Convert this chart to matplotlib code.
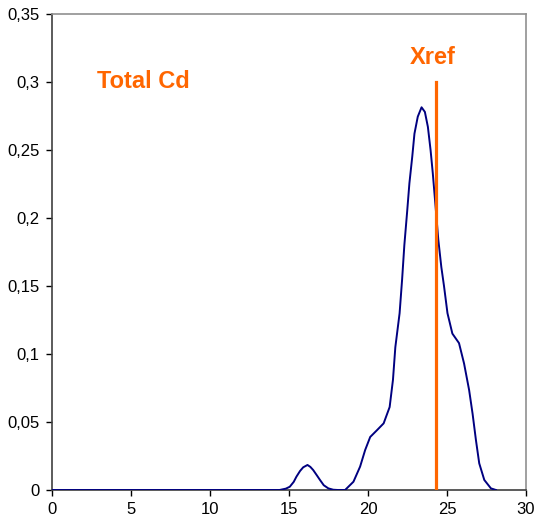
import matplotlib
matplotlib.use("Agg")
import matplotlib.pyplot as plt

# Distribution curve (x, density)
x_vals = [0, 5, 10, 14.0, 14.4, 14.8, 15.05, 15.3, 15.47, 15.7, 15.9, 16.17, 16.35, 16.53,
          16.75, 16.96, 17.2, 17.49, 17.8, 18.1, 18.55, 19.08, 19.5, 19.82, 20.14, 20.57,
          20.99, 21.37, 21.58, 21.73, 22.0, 22.16, 22.3, 22.48, 22.62, 22.8, 22.94, 23.15,
          23.39, 23.6, 23.79, 23.96, 24.1, 24.28, 24.45, 24.64, 24.81, 25.03, 25.34, 25.76,
          26.08, 26.4, 26.62, 26.83, 27.04, 27.36, 27.78, 28.1]
y_vals = [0, 0, 0, 0, 0, 0.001, 0.0024, 0.006, 0.0098, 0.014, 0.0167, 0.0184, 0.017, 0.0147,
          0.011, 0.0074, 0.0035, 0.0012, 0.0002, 0.0, 0.0, 0.0061, 0.0172, 0.0294, 0.039, 0.044,
          0.049, 0.061, 0.081, 0.105, 0.130, 0.155, 0.180, 0.205, 0.2255, 0.245, 0.262, 0.2745,
          0.2814, 0.278, 0.267, 0.25, 0.233, 0.208, 0.184, 0.164, 0.150, 0.130, 0.115, 0.108,
          0.093, 0.0735, 0.056, 0.0368, 0.0196, 0.0074, 0.0012, 0.0]

xref_value = 24.32
xref_top = 0.30

x_ticks = [0, 5, 10, 15, 20, 25, 30]
y_ticks = [0, 0.05, 0.1, 0.15, 0.2, 0.25, 0.3, 0.35]
y_tick_labels = ["0", "0,05", "0,1", "0,15", "0,2", "0,25", "0,3", "0,35"]

plt.rcParams['font.family'] = ['Liberation Sans', 'DejaVu Sans']

fig = plt.figure(figsize=(5.38, 5.27), dpi=100)
ax = fig.add_axes([52/538, 37/527, (526-52)/538, (490-14)/527])

ax.plot(x_vals, y_vals, color="#000080", lw=1.4, zorder=3, solid_joinstyle="round")
ax.plot([xref_value, xref_value], [0, xref_top], color="#FF6600", lw=2.3, zorder=4)

ax.text(2.85, 0.2956, "Total Cd", color="#FF6600", fontsize=17, fontweight="bold",
        ha="left", va="baseline")
ax.text(24.1, 0.3132, "Xref", color="#FF6600", fontsize=17, fontweight="bold",
        ha="center", va="baseline")

ax.set_xlim(0, 30)
ax.set_ylim(0, 0.35)
ax.set_xticks(x_ticks)
ax.set_xticklabels([str(t) for t in x_ticks], fontsize=12)
ax.set_yticks(y_ticks)
ax.set_yticklabels(y_tick_labels, fontsize=12)
ax.tick_params(direction="out", length=4, width=1, colors="#000000", pad=5)

for s in ["left", "bottom"]:
    ax.spines[s].set_color("#404040")
    ax.spines[s].set_linewidth(1.2)
for s in ["top", "right"]:
    ax.spines[s].set_color("#909090")
    ax.spines[s].set_linewidth(1.2)

fig.savefig("out.png", dpi=100)
